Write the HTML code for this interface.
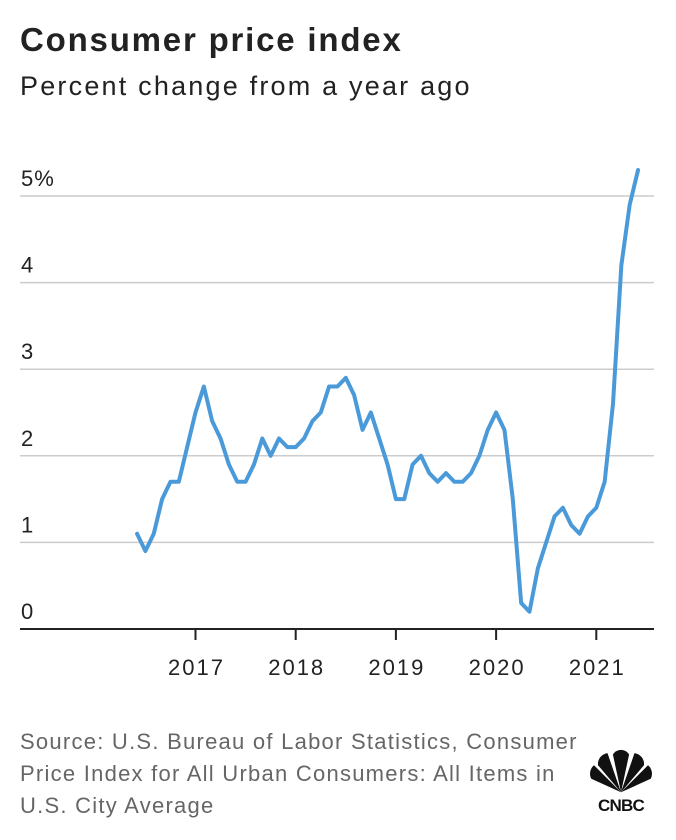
<!DOCTYPE html>
<html><head><meta charset="utf-8"><style>
body{margin:0;width:676px;height:840px;background:#fff;font-family:"Liberation Sans",sans-serif;overflow:hidden;position:relative}
.t{position:absolute;left:20px;top:21px;font-size:33px;font-weight:bold;color:#222;letter-spacing:1.8px}
.s{position:absolute;left:20px;top:71px;font-size:27px;color:#222;letter-spacing:2.2px}
.src{position:absolute;left:20px;top:726px;font-size:22px;line-height:32px;color:#666;white-space:nowrap;letter-spacing:1.25px}
svg{position:absolute;left:0;top:0}
</style></head><body>
<div class="t">Consumer price index</div>
<div class="s">Percent change from a year ago</div>
<svg id="c" width="676" height="700"></svg>
<div class="src">Source: U.S. Bureau of Labor Statistics, Consumer<br>Price Index for All Urban Consumers: All Items in<br>U.S. City Average</div>
<svg width="676" height="840" style="pointer-events:none">
<g transform="translate(621,795) scale(1.35)" fill="#111">
<path d="M0,-2 L-22,-12 A8,8 0 0 1 -20,-22 Z"/><path d="M0,-2 L-17,-22 A8,8 0 0 1 -10,-31 Z"/><path d="M0,-2 L-6,-30 A7,7 0 0 1 6,-30 Z"/><path d="M0,-2 L10,-31 A8,8 0 0 1 17,-22 Z"/><path d="M0,-2 L20,-22 A8,8 0 0 1 22,-12 Z"/>
</g>
<text x="621" y="811" text-anchor="middle" font-family="Liberation Sans" font-weight="bold" font-size="17" fill="#111" letter-spacing="-0.8">CNBC</text>
</svg>
<script>
const yTicks=[0,1,2,3,4,5];
const yLabels=["0","1","2","3","4","5%"];
const years=[2017,2018,2019,2020,2021];
const startYear=2016, startMonth=5;
const cpi=[1.1,0.9,1.1,1.5,1.7,1.7,2.1,2.5,2.8,2.4,2.2,1.9,1.7,1.7,1.9,2.2,2.0,2.2,2.1,2.1,2.2,2.4,2.5,2.8,2.8,2.9,2.7,2.3,2.5,2.2,1.9,1.5,1.5,1.9,2.0,1.8,1.7,1.8,1.7,1.7,1.8,2.0,2.3,2.5,2.3,1.5,0.3,0.2,0.7,1.0,1.3,1.4,1.2,1.1,1.3,1.4,1.7,2.6,4.2,4.9,5.3];
const NS="http://www.w3.org/2000/svg",svg=document.getElementById('c');
const x=t=>195.5+(t-2017)*100.2;
const y=v=>629-v*86.6;
function el(n,a){const e=document.createElementNS(NS,n);for(const k in a)e.setAttribute(k,a[k]);svg.appendChild(e);return e;}
yTicks.forEach((v,i)=>{
 if(v>0){const g=el('line',{x1:20,x2:654,y1:y(v),y2:y(v),stroke:'#ccc','stroke-width':1.5});
 
 }
 const t=el('text',{x:21,y:y(v)-10,'font-size':22,fill:'#222','font-family':'Liberation Sans','letter-spacing':1});t.textContent=yLabels[i];
 
 
});
const ax=el('line',{x1:20,x2:654,y1:629,y2:629,stroke:'#222','stroke-width':2});


years.forEach(yr=>{
 const tk=el('line',{x1:x(yr),x2:x(yr),y1:629,y2:640,stroke:'#222','stroke-width':2});
 
 
 const t=el('text',{x:x(yr)+1,y:675,'text-anchor':'middle','font-size':22,fill:'#222','font-family':'Liberation Sans','letter-spacing':2});t.textContent=yr;
 
 
});
const pts=cpi.map((v,i)=>x(startYear+(startMonth+i)/12)+','+y(v)).join(' ');
const line=el('polyline',{points:pts,fill:'none',stroke:'#4a9ad9','stroke-width':4,'stroke-linejoin':'round','stroke-linecap':'round'});


</script>
</body></html>
